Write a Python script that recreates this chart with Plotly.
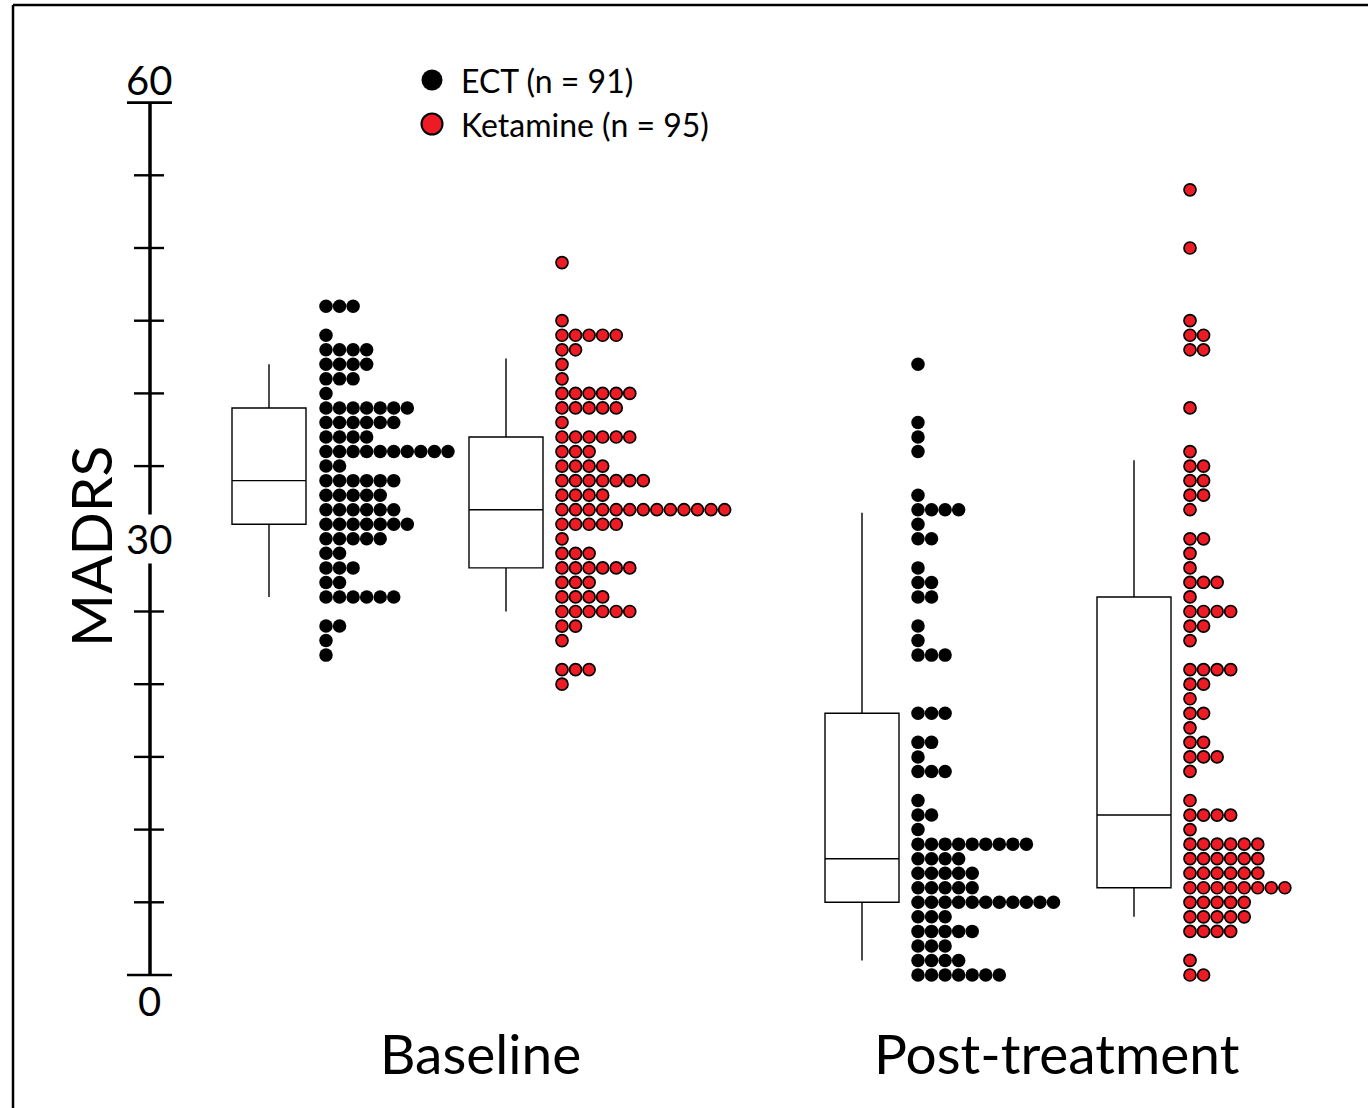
import plotly.graph_objects as go

# ---------------- data ----------------
groups = ["Baseline", "Post-treatment"]
series_names = ["ECT (n = 91)", "Ketamine (n = 95)"]

# dot plot rows: MADRS score and number of patients at that score
ect_base_scores = [46, 44, 43, 42, 41, 40, 39, 38, 37, 36, 35, 34, 33, 32, 31, 30, 29, 28, 27, 26, 24, 23, 22]
ect_base_counts = [3, 1, 4, 4, 3, 1, 7, 6, 4, 10, 2, 6, 5, 6, 7, 5, 2, 3, 2, 6, 2, 1, 1]

ket_base_scores = [49, 45, 44, 43, 42, 41, 40, 39, 38, 37, 36, 35, 34, 33, 32, 31, 30, 29, 28, 27, 26, 25, 24, 23, 21, 20]
ket_base_counts = [1, 1, 5, 2, 1, 1, 6, 5, 1, 6, 3, 4, 7, 4, 13, 5, 1, 3, 6, 3, 4, 6, 2, 1, 3, 1]

ect_post_scores = [42, 38, 37, 36, 33, 32, 31, 30, 28, 27, 26, 24, 23, 22, 18, 16, 15, 14, 12, 11, 10, 9, 8, 7, 6, 5, 4, 3, 2, 1, 0]
ect_post_counts = [1, 1, 1, 1, 1, 4, 1, 2, 1, 2, 2, 1, 1, 3, 3, 2, 1, 3, 1, 2, 1, 9, 4, 5, 5, 11, 3, 5, 3, 4, 7]

ket_post_scores = [54, 50, 45, 44, 43, 39, 36, 35, 34, 33, 32, 30, 29, 28, 27, 26, 25, 24, 23, 21, 20, 19, 18, 17, 16, 15, 14, 12, 11, 10, 9, 8, 7, 6, 5, 4, 3, 1, 0]
ket_post_counts = [1, 1, 1, 2, 2, 1, 1, 2, 2, 2, 1, 2, 1, 1, 3, 1, 4, 2, 1, 4, 2, 1, 2, 1, 2, 3, 1, 1, 4, 1, 6, 6, 6, 8, 5, 5, 4, 1, 2]

# box plot summaries (ECT base, Ketamine base, ECT post, Ketamine post)
box_lower = [26, 25, 1, 4]
box_q1 = [31, 28, 5, 6]
box_median = [34, 32, 8, 11]
box_q3 = [39, 37, 18, 26]
box_upper = [42, 42.4, 31.8, 35.4]

y_ticks = [0, 5, 10, 15, 20, 25, 30, 35, 40, 45, 50, 55, 60]
y_tick_labels = {0: "0", 30: "30", 60: "60"}

# ---------------- layout constants (x in pixel-like units) ----------------
W, H = 1368, 1108
PX_PER_UNIT = 14.54
Y0_PX = 975
y_min = -(H - Y0_PX) / PX_PER_UNIT
y_max = Y0_PX / PX_PER_UNIT

box_centers = [269, 506, 862, 1134]
box_width = 74
dot_starts = [326, 562, 918, 1190]
dot_step = 13.55
group_label_x = [480, 1057]
axis_x = 150

BLACK = "#000000"
RED = "#ED1C24"
FONT = "Lato"

fig = go.Figure()

# boxes
for i in range(4):
    fig.add_trace(go.Box(
        x=[box_centers[i]], q1=[box_q1[i]], median=[box_median[i]], q3=[box_q3[i]],
        lowerfence=[box_lower[i]], upperfence=[box_upper[i]],
        width=box_width, whiskerwidth=0, fillcolor="white",
        line=dict(color=BLACK, width=1.4), boxpoints=False, showlegend=False,
        hoverinfo="skip",
    ))

# dot plots
dot_sets = [
    (ect_base_scores, ect_base_counts, BLACK),
    (ket_base_scores, ket_base_counts, RED),
    (ect_post_scores, ect_post_counts, BLACK),
    (ket_post_scores, ket_post_counts, RED),
]
for i, (scores, counts, col) in enumerate(dot_sets):
    xs, ys = [], []
    for s, c in zip(scores, counts):
        for k in range(c):
            xs.append(dot_starts[i] + k * dot_step)
            ys.append(s)
    if col == BLACK:
        marker = dict(size=13.5, color=BLACK, line=dict(width=0))
    else:
        marker = dict(size=12, color=RED, line=dict(color=BLACK, width=1.7))
    fig.add_trace(go.Scatter(x=xs, y=ys, mode="markers", marker=marker,
                             showlegend=False, hoverinfo="skip"))

# legend (manual)
legend_x = 432
legend_text_x = 459
legend_y = [(Y0_PX - 80) / PX_PER_UNIT, (Y0_PX - 124) / PX_PER_UNIT]
fig.add_trace(go.Scatter(
    x=[legend_x, legend_x], y=legend_y, mode="markers",
    marker=dict(size=21, color=[BLACK, RED], line=dict(color=BLACK, width=[0, 2])),
    showlegend=False, hoverinfo="skip"))

annotations = []
for name, ly in zip(series_names, legend_y):
    annotations.append(dict(x=legend_text_x, y=ly, text=name, showarrow=False,
                            xanchor="left", yanchor="middle",
                            font=dict(family=FONT, size=32, color=BLACK)))

# y axis (drawn)
shapes = []
shapes.append(dict(type="line", x0=axis_x, x1=axis_x, y0=0, y1=60,
                   line=dict(color=BLACK, width=3.5)))
for t in y_ticks:
    if t in (0, 60):
        shapes.append(dict(type="line", x0=axis_x - 23, x1=axis_x + 22, y0=t, y1=t,
                           line=dict(color=BLACK, width=2.6)))
    elif t != 30:
        shapes.append(dict(type="line", x0=axis_x - 16, x1=axis_x + 14, y0=t, y1=t,
                           line=dict(color=BLACK, width=2.4)))

annotations.append(dict(x=axis_x - 1, y=60, text=y_tick_labels[60], showarrow=False,
                        xanchor="center", yanchor="bottom", yshift=-3,
                        font=dict(family=FONT, size=40, color=BLACK)))
annotations.append(dict(x=axis_x - 1, y=30, text=y_tick_labels[30], showarrow=False,
                        xanchor="center", yanchor="middle", bgcolor="white",
                        borderpad=0,
                        font=dict(family=FONT, size=40, color=BLACK)))
annotations.append(dict(x=axis_x - 1, y=0, text=y_tick_labels[0], showarrow=False,
                        xanchor="center", yanchor="top", yshift=0,
                        font=dict(family=FONT, size=40, color=BLACK)))

annotations.append(dict(x=90, y=(Y0_PX - 546) / PX_PER_UNIT, text="MADRS", textangle=-90,
                        showarrow=False, xanchor="center", yanchor="middle",
                        font=dict(family=FONT, size=57, color=BLACK)))

for g, gx in zip(groups, group_label_x):
    annotations.append(dict(x=gx, y=(Y0_PX - 1053) / PX_PER_UNIT, text=g, showarrow=False,
                            xanchor="center", yanchor="middle",
                            font=dict(family=FONT, size=55, color=BLACK)))

# frame
shapes.append(dict(type="line", xref="paper", yref="paper", x0=13 / W, x1=13 / W,
                   y0=0, y1=1 - 5 / H, line=dict(color=BLACK, width=2.5)))
shapes.append(dict(type="line", xref="paper", yref="paper", x0=13 / W, x1=1,
                   y0=1 - 5 / H, y1=1 - 5 / H, line=dict(color=BLACK, width=2.5)))

fig.update_layout(
    width=W, height=H, autosize=False,
    margin=dict(l=0, r=0, t=0, b=0, pad=0),
    paper_bgcolor="white", plot_bgcolor="white",
    xaxis=dict(range=[0, W], visible=False, fixedrange=True),
    yaxis=dict(range=[y_min, y_max], visible=False, fixedrange=True),
    shapes=shapes, annotations=annotations,
    showlegend=False,
)

fig.write_html("out.html", config={"displayModeBar": False})
